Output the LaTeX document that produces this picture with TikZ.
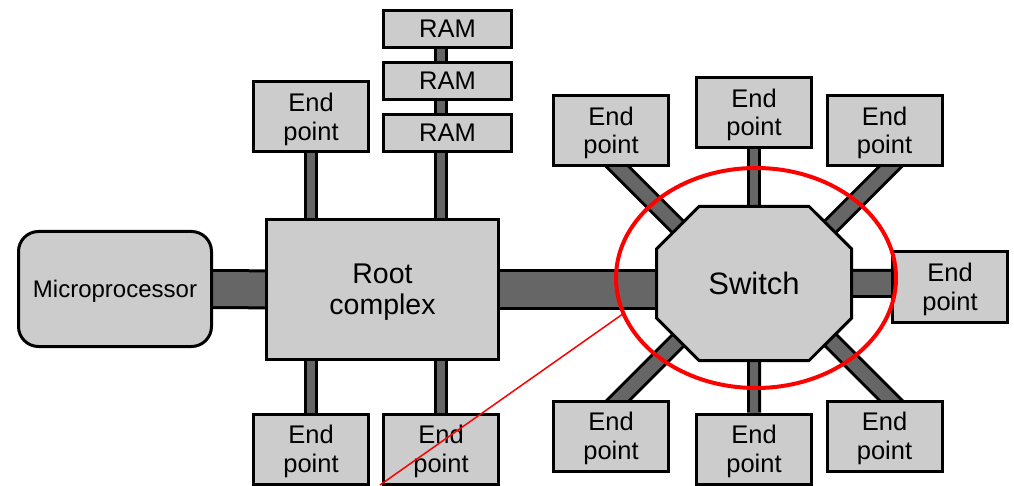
\documentclass[tikz,border=0pt]{standalone}
\usepackage{fontspec}
\setmainfont{Liberation Sans}
\usetikzlibrary{shapes.misc,shapes.geometric,backgrounds,calc}
\definecolor{boxgray}{HTML}{CCCCCC}
\definecolor{linkgray}{HTML}{666666}
\begin{document}
\begin{tikzpicture}[x=1pt,y=1pt,
  box/.style={draw=black, line width=3pt, fill=boxgray, inner sep=0pt, align=center,
    text depth=0pt,
    minimum width=115pt, minimum height=70pt, font=\fontsize{25.5}{28.5}\selectfont},
  ram/.style={box, minimum width=128pt, minimum height=37pt},
  link/.style={draw=black, line width=3pt, double=linkgray, double distance=#1},
  link/.default=8pt,
  highlight/.style={draw=red, line width=4pt},
  callout/.style={draw=red, line width=1.5pt}]
\useasboundingbox (0,0) rectangle (1014,485);

% left part
\node[box, rounded corners=20pt, minimum width=193pt, minimum height=115pt,
  font=\fontsize{24}{27}\selectfont] (mp) at (115,196) {Microprocessor};
\node[box, minimum width=232pt, minimum height=140pt,
  font=\fontsize{28.5}{31}\selectfont] (rc) at (382.5,195.5) {Root\\complex};
\node[box] (e1) at (311,368) {End\\point};
\node[ram] (ram1) at (447.5,456) {RAM};
\node[ram] (ram2) at (447.5,404) {RAM};
\node[ram] (ram3) at (447.5,352) {RAM};
\node[box] (e2) at (311,36) {End\\point};
\node[box] (e3) at (441,36) {End\\point};

% switch
\node[chamfered rectangle, chamfered rectangle xsep=33pt, chamfered rectangle ysep=31pt,
  draw=black, line width=3pt, fill=boxgray, inner sep=0pt,
  minimum width=195pt, minimum height=154pt,
  font=\fontsize{31}{35}\selectfont] (sw) at (754,201.5) {Switch};
\node[box] (t)  at (754,372.5) {End\\point};
\node[box] (tl) at (611,354.5) {End\\point};
\node[box] (tr) at (884.5,354.5) {End\\point};
\node[box] (r)  at (950,198) {End\\point};
\node[box] (bl) at (611,49) {End\\point};
\node[box] (b)  at (754,36) {End\\point};
\node[box] (br) at (884.5,49) {End\\point};

\begin{pgfonlayer}{background}
  \draw[link=34pt] (mp) -- (rc);
  \draw[link] (e1) -- (e1 |- rc);
  \draw[link] (e3 |- ram1) -- (e3 |- rc);
  \draw[link] (e2) -- (e2 |- rc);
  \draw[link] (e3) -- (e3 |- rc);
  \draw[link=34pt] (rc) -- (rc -| sw);
  \draw[link=23pt] (sw) -- (sw -| r);
  \draw[link] (t) -- (sw);
  \draw[link] (b) -- (sw);
  \draw[link=13pt] ($(tl.south)+(-13,20)$) -- ($(tl.south)+(77,-70)$);
  \draw[link=13pt] ($(tr.south)+(25.5,20)$) -- ($(tr.south)+(-64.5,-70)$);
  \draw[link=13pt] ($(bl.north)+(-12,-20)$) -- ($(bl.north)+(78,70)$);
  \draw[link=13pt] ($(br.north)+(25.5,-20)$) -- ($(br.north)+(-64.5,70)$);
\end{pgfonlayer}

% highlight
\node[ellipse, highlight, minimum width=280pt, minimum height=220pt, inner sep=0pt,
  outer sep=0pt] (hl) at (756,207) {};
\coordinate (cend) at (380,0);
\draw[callout] (cend) -- (hl.195);
\end{tikzpicture}
\end{document}
